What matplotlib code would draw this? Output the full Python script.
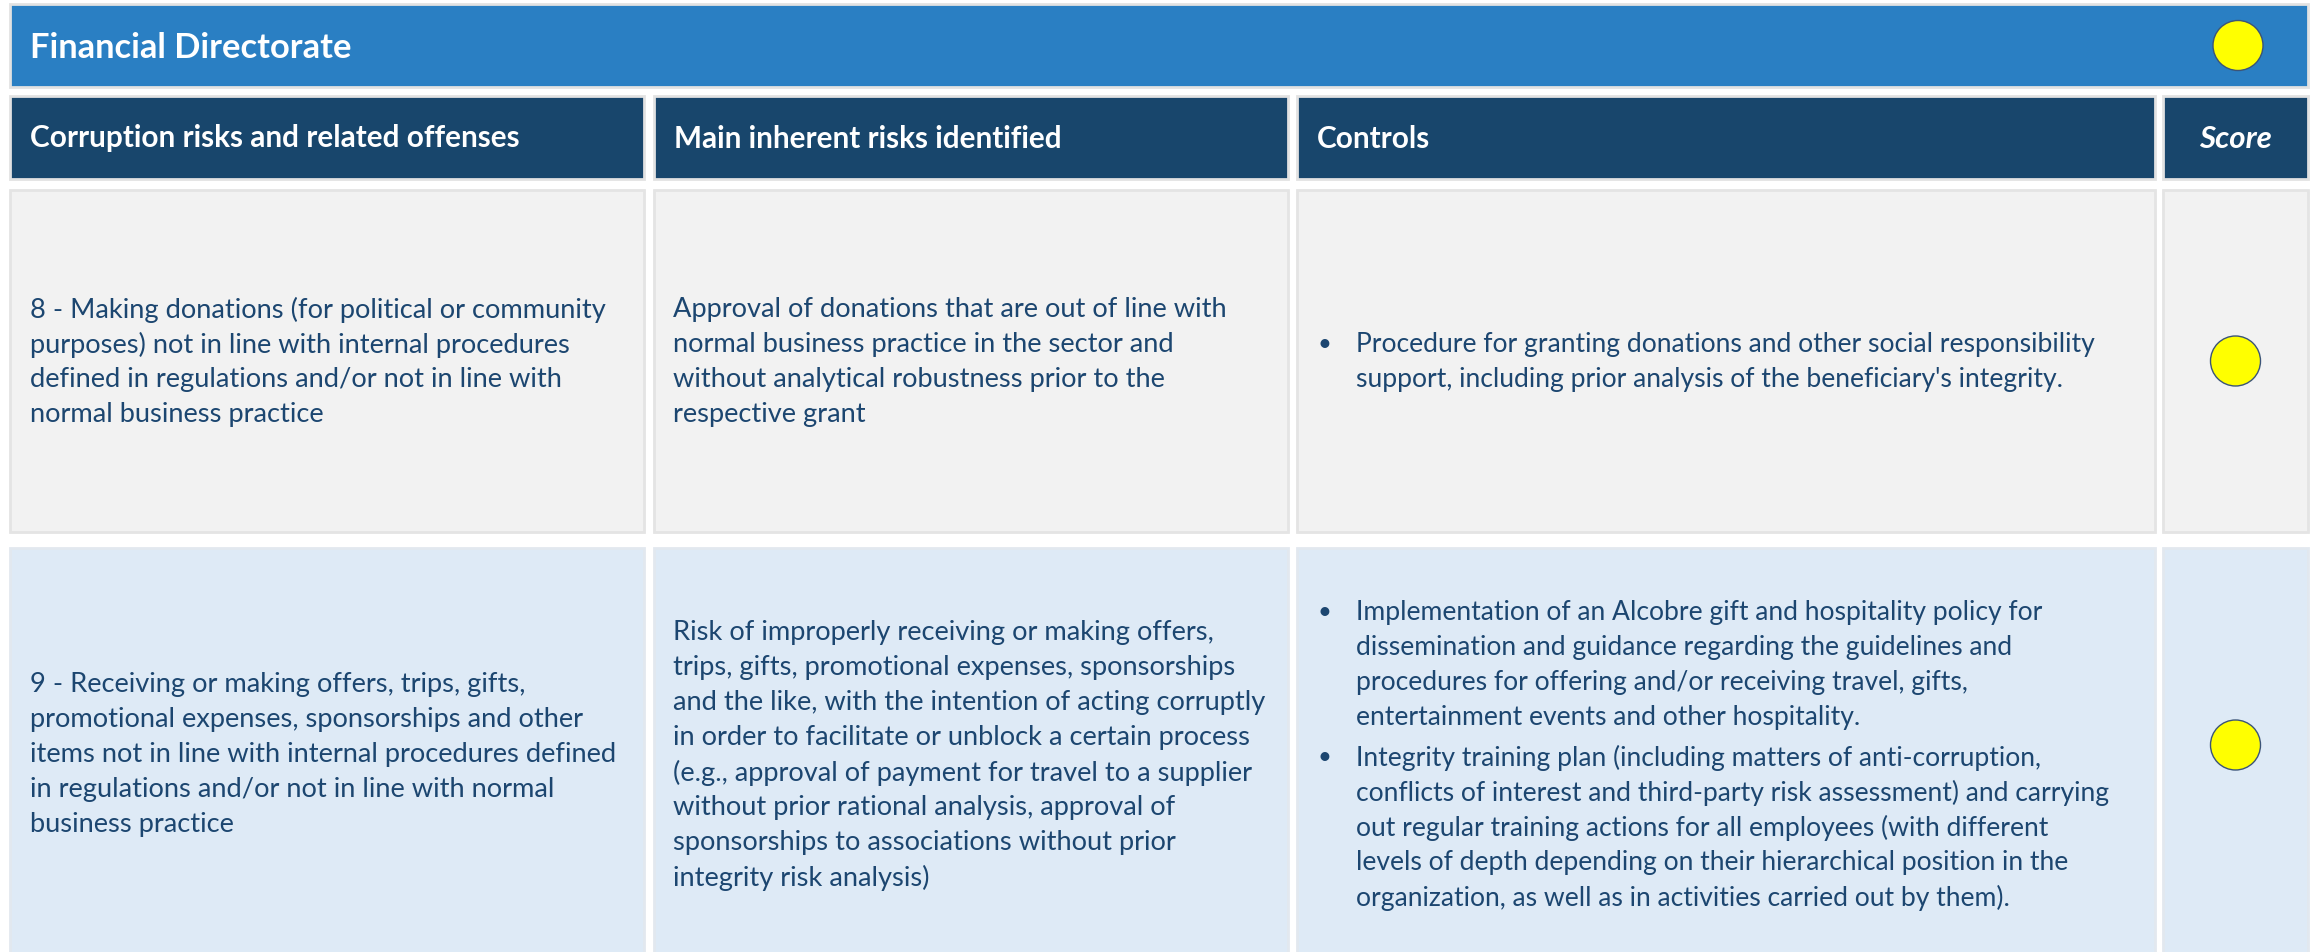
import matplotlib.pyplot as plt
from matplotlib.patches import Rectangle, Circle

# ---- content ----
title = "Financial Directorate"
headers = ["Corruption risks and related offenses", "Main inherent risks identified",
           "Controls", "Score"]

offenses = [
    ["8 - Making donations (for political or community",
     "purposes) not in line with internal procedures",
     "defined in regulations and/or not in line with",
     "normal business practice"],
    ["9 - Receiving or making offers, trips, gifts,",
     "promotional expenses, sponsorships and other",
     "items not in line with internal procedures defined",
     "in regulations and/or not in line with normal",
     "business practice"],
]

risks = [
    ["Approval of donations that are out of line with",
     "normal business practice in the sector and",
     "without analytical robustness prior to the",
     "respective grant"],
    ["Risk of improperly receiving or making offers,",
     "trips, gifts, promotional expenses, sponsorships",
     "and the like, with the intention of acting corruptly",
     "in order to facilitate or unblock a certain process",
     "(e.g., approval of payment for travel to a supplier",
     "without prior rational analysis, approval of",
     "sponsorships to associations without prior",
     "integrity risk analysis)"],
]

controls = [
    [["Procedure for granting donations and other social responsibility",
      "support, including prior analysis of the beneficiary's integrity."]],
    [["Implementation of an Alcobre gift and hospitality policy for",
      "dissemination and guidance regarding the guidelines and",
      "procedures for offering and/or receiving travel, gifts,",
      "entertainment events and other hospitality."],
     ["Integrity training plan (including matters of anti-corruption,",
      "conflicts of interest and third-party risk assessment) and carrying",
      "out regular training actions for all employees (with different",
      "levels of depth depending on their hierarchical position in the",
      "organization, as well as in activities carried out by them)."]],
]

title_score = "medium"
scores = ["medium", "medium"]
score_colors = {"medium": "#FFFF00"}

# ---- layout (pixels) ----
W, H = 2313, 953
cols = [(10, 644), (654, 1288), (1297, 2155), (2163, 2308)]
title_y = (5, 88)
head_y = (97, 180)
rows = [(191, 533), (549, 961)]
circle_y = [362, 746]
pitch = 35
para_gap = 5

BLUE = "#2A7FC3"
NAVY = "#18466C"
TXT = "#1C4670"
row_bg = ["#F2F2F2", "#DEEAF6"]
row_edge = ["#E4E4E4", "#E2E8EF"]
FONT = "Lato"
BODY = 19.6
BODY_CTRL = 19.1
plt.rcParams["font.family"] = [FONT, "DejaVu Sans"]

fig = plt.figure(figsize=(W / 100, H / 100), dpi=100)
ax = fig.add_axes([0, 0, 1, 1])
ax.set_xlim(0, W)
ax.set_ylim(H, 0)
ax.axis("off")


def box(x0, x1, y0, y1, fc, ec):
    ax.add_patch(Rectangle((x0, y0), x1 - x0, y1 - y0, facecolor=fc,
                           edgecolor=ec, linewidth=2))


def lines_block(x, yc, paras, size, bullet=False):
    n = sum(len(p) for p in paras)
    total = (n - 1) * pitch + (len(paras) - 1) * para_gap
    y = yc - total / 2
    for p in paras:
        if bullet:
            ax.text(x - 3, y, "\u2022", fontsize=size * 0.9, color=TXT, va="center")
        for ln in p:
            ax.text(x + (35 if bullet else 0), y, ln, fontsize=size,
                    color=TXT, va="center")
            y += pitch
        y += para_gap


# title bar
box(cols[0][0], cols[-1][1], *title_y, BLUE, "#E2E2E2")
ax.text(30, sum(title_y) / 2 + 1, title, fontsize=24.8, fontweight="bold",
        color="white", va="center")
ax.add_patch(Circle((2238, sum(title_y) / 2), 25,
                    facecolor=score_colors[title_score], edgecolor="#3B5478", linewidth=1))

# header row
for i, (c, h) in enumerate(zip(cols, headers)):
    box(c[0], c[1], *head_y, NAVY, "#E2E2E2")
    if i == 3:
        ax.text(sum(c) / 2, sum(head_y) / 2, h, fontsize=22.5, fontweight="bold",
                style="italic", color="white", va="center", ha="center")
    else:
        ax.text(c[0] + 20, sum(head_y) / 2, h, fontsize=21.4, fontweight="bold",
                color="white", va="center")

# body rows
for r, (y0, y1) in enumerate(rows):
    for c in cols:
        box(c[0], c[1], y0, y1, row_bg[r], row_edge[r])
    yc = (y0 + y1) / 2
    lines_block(cols[0][0] + 20, yc, [offenses[r]], BODY)
    lines_block(cols[1][0] + 19, yc, [risks[r]], BODY)
    lines_block(cols[2][0] + 24, yc, controls[r], BODY_CTRL, bullet=True)
    ax.add_patch(Circle((sum(cols[3]) / 2, circle_y[r]), 25,
                        facecolor=score_colors[scores[r]], edgecolor="#3B5478",
                        linewidth=1))

fig.savefig("out.png", dpi=100)
